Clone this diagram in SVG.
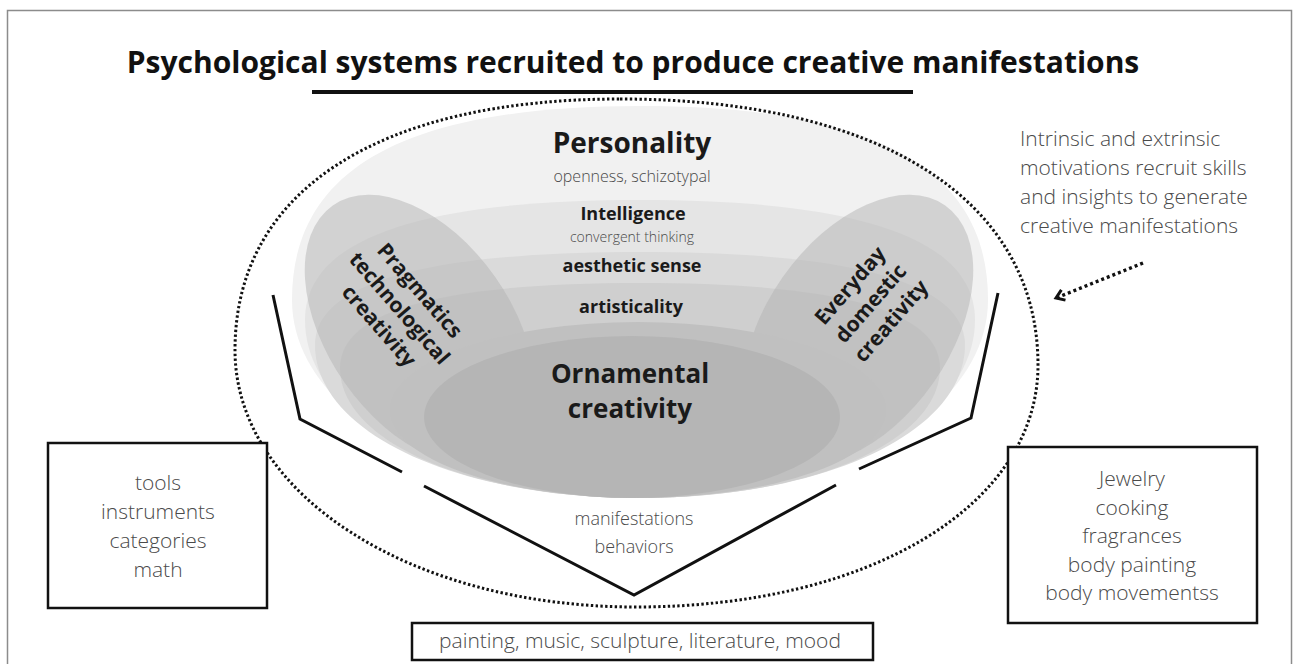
<svg xmlns="http://www.w3.org/2000/svg" width="1293" height="664" viewBox="0 0 1293 664">
  <style>
    .title { font-family: "Open Sans", "Liberation Sans", sans-serif; font-weight: 700; font-size: 30px; fill: #111; text-anchor: middle; }
    .bold { font-family: "Open Sans", "Liberation Sans", sans-serif; font-weight: 700; fill: #1a1a1a; text-anchor: middle; }
    .light { font-family: "Open Sans", "Liberation Sans", sans-serif; font-weight: 300; fill: #4a4a4a; text-anchor: middle; }
    .box { fill: #fff; stroke: #111; stroke-width: 2.5; }
    .bracket { fill: none; stroke: #111; stroke-width: 3; stroke-linejoin: miter; }
    .side { fill: #b4b4b4; fill-opacity: 0.5; }
  </style>
  <defs>
    <marker id="chev" viewBox="0 0 14 14" refX="11" refY="7" markerWidth="14" markerHeight="14" markerUnits="userSpaceOnUse" orient="auto">
      <path d="M3,1.5 L11,7 L3,12.5" fill="none" stroke="#111" stroke-width="3"/>
    </marker>
  </defs>

  <!-- frame -->
  <rect x="7.5" y="10.5" width="1284" height="700" fill="#fff" stroke="#8c8c8c" stroke-width="1.5"/>

  <!-- title -->
  <g id="title">
    <text class="title" x="633" y="73">Psychological systems recruited to produce creative manifestations</text>
    <rect x="312" y="90" width="601" height="4" fill="#111"/>
  </g>

  <!-- bowl layers -->
  <g id="bowl">
    <path id="personality-layer" d="M640,106 C379,106 292,184 292,300 C292,410 440,498 640,498 C840,498 988,410 988,300 C988,184 901,106 640,106 Z" fill="#f1f1f1"/>
    <path id="intelligence-layer" d="M640,200 C430,200 305,235 305,320 C305,420 450,498 640,498 C830,498 975,420 975,320 C975,235 850,200 640,200 Z" fill="#e5e5e5"/>
    <path id="aesthetic-layer" d="M640,252 C445,252 315,278 315,345 C315,432 455,498 640,498 C825,498 965,432 965,345 C965,278 835,252 640,252 Z" fill="#dadada"/>
    <path id="artisticality-layer" d="M640,283 C462,283 340,305 340,368 C340,442 470,498 640,498 C810,498 940,442 940,368 C940,305 818,283 640,283 Z" fill="#cfcfcf"/>
    <ellipse id="pragmatics-shape" class="side" cx="420" cy="330" rx="152" ry="92" transform="rotate(55 420 330)"/>
    <ellipse id="everyday-shape" class="side" cx="858" cy="330" rx="152" ry="92" transform="rotate(-55 858 330)"/>
    <ellipse id="ornamental-outer" cx="638" cy="410" rx="248" ry="88" fill="#c0c0c0"/>
    <ellipse id="ornamental-inner" cx="632" cy="417" rx="208" ry="81" fill="#b5b5b5"/>
  </g>

  <!-- envelope -->
  <path id="envelope" d="M620,99 C880,99 1038,200 1038,365 C1038,505 870,607 636,607 C411,607 235,494 235,350 C235,190 380,99 620,99 Z" fill="none" stroke="#111" stroke-width="3" stroke-dasharray="2.4 2.4"/>

  <!-- layer labels -->
  <g id="personality">
    <text class="bold" x="632" y="153" font-size="28">Personality</text>
    <text class="light" x="632" y="182" font-size="16" fill="#555">openness, schizotypal</text>
  </g>
  <g id="intelligence">
    <text class="bold" x="633" y="220" font-size="18">Intelligence</text>
    <text class="light" x="632" y="242" font-size="14" fill="#555">convergent thinking</text>
  </g>
  <g id="aesthetic">
    <text class="bold" x="632" y="272" font-size="18">aesthetic sense</text>
  </g>
  <g id="artisticality">
    <text class="bold" x="631" y="313" font-size="18">artisticality</text>
  </g>
  <g id="ornamental">
    <text class="bold" x="630" y="383" font-size="26">Ornamental</text>
    <text class="bold" x="630" y="418" font-size="26">creativity</text>
  </g>
  <g id="pragmatics" transform="translate(394,313) rotate(49)">
    <text class="bold" x="0" y="-27" font-size="21">Pragmatics</text>
    <text class="bold" x="0" y="0" font-size="21">technological</text>
    <text class="bold" x="0" y="27" font-size="21">creativity</text>
  </g>
  <g id="everyday" transform="translate(876,308) rotate(-49)">
    <text class="bold" x="0" y="-27" font-size="21">Everyday</text>
    <text class="bold" x="0" y="0" font-size="21">domestic</text>
    <text class="bold" x="0" y="27" font-size="21">creativity</text>
  </g>

  <!-- connectors -->
  <g id="connectors">
    <polyline class="bracket" points="273,295 300,419 402,472"/>
    <polyline class="bracket" points="424,486 634,595 836,485"/>
    <polyline class="bracket" points="859,469 971,418 998,293"/>
    <line x1="1143" y1="263" x2="1056" y2="298" stroke="#111" stroke-width="3.4" stroke-dasharray="3 3" marker-end="url(#chev)"/>
  </g>

  <g id="manifestations">
    <text class="light" x="634" y="525" font-size="18">manifestations</text>
    <text class="light" x="634" y="553" font-size="18">behaviors</text>
  </g>

  <g id="motivation-note">
    <text class="light" x="1020" y="146" font-size="21" style="text-anchor:start">Intrinsic and extrinsic</text>
    <text class="light" x="1020" y="175" font-size="21" style="text-anchor:start">motivations recruit skills</text>
    <text class="light" x="1020" y="204" font-size="21" style="text-anchor:start">and insights to generate</text>
    <text class="light" x="1020" y="233" font-size="21" style="text-anchor:start">creative manifestations</text>
  </g>

  <g id="technological-box">
    <rect class="box" x="48" y="443" width="219" height="165"/>
    <text class="light" x="158" y="490" font-size="21">tools</text>
    <text class="light" x="158" y="519" font-size="21">instruments</text>
    <text class="light" x="158" y="548" font-size="21">categories</text>
    <text class="light" x="158" y="577" font-size="21">math</text>
  </g>

  <g id="domestic-box">
    <rect class="box" x="1008" y="447" width="249" height="176"/>
    <text class="light" x="1132" y="486" font-size="21">Jewelry</text>
    <text class="light" x="1132" y="515" font-size="21">cooking</text>
    <text class="light" x="1132" y="543" font-size="21">fragrances</text>
    <text class="light" x="1132" y="572" font-size="21">body painting</text>
    <text class="light" x="1132" y="600" font-size="21">body movementss</text>
  </g>

  <g id="arts-box">
    <rect class="box" x="412" y="623" width="461" height="37"/>
    <text class="light" x="640" y="648" font-size="21">painting, music, sculpture, literature, mood</text>
  </g>
</svg>
